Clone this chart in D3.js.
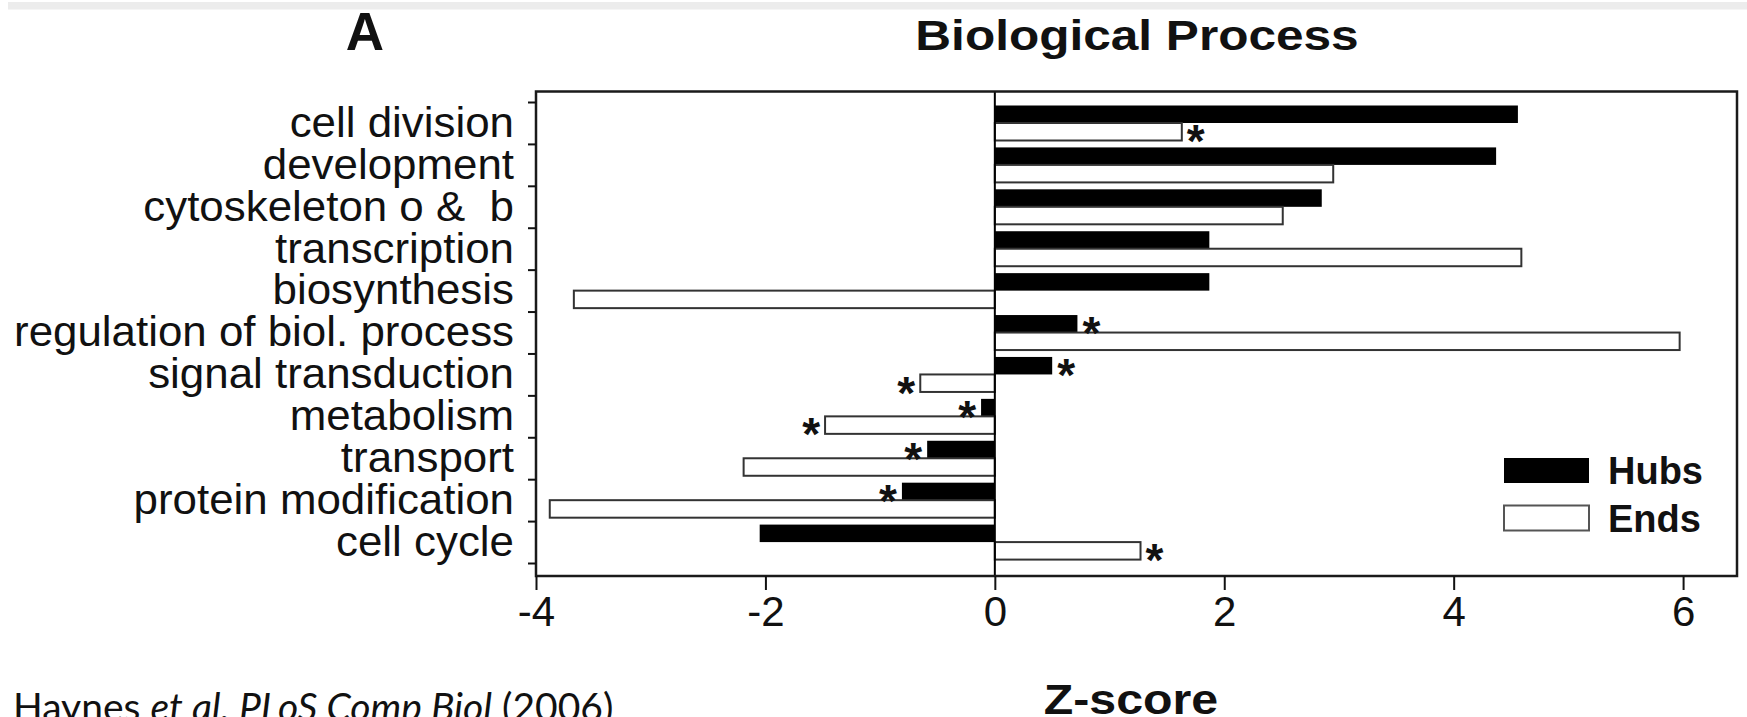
<!DOCTYPE html>
<html>
<head>
<meta charset="utf-8">
<script src="https://cdn.jsdelivr.net/npm/d3@7"></script>
<style>
  html, body { margin: 0; padding: 0; background: #fff; }
  svg { display: block; }
  text { font-family: "Liberation Sans", Arial, Helvetica, sans-serif; fill: #111; }
</style>
</head>
<body>
<svg id="chart"></svg>
<script>
const categories = [
  "cell division",
  "development",
  "cytoskeleton o &  b",
  "transcription",
  "biosynthesis",
  "regulation of biol. process",
  "signal transduction",
  "metabolism",
  "transport",
  "protein modification",
  "cell cycle"
];
const hubs = [4.56, 4.37, 2.85, 1.87, 1.87, 0.72, 0.5, -0.12, -0.59, -0.81, -2.05];
const ends = [1.63, 2.95, 2.51, 4.59, -3.67, 5.97, -0.65, -1.48, -2.19, -3.88, 1.27];
const hubsStar = [false, false, false, false, false, true, true, true, true, true, false];
const endsStar = [true, false, false, false, false, false, true, true, false, false, true];
const xTicks = [-4, -2, 0, 2, 4, 6];
const seriesNames = ["Hubs", "Ends"];

const width = 1747;
const height = 717;
const plot = { left: 536, right: 1737, top: 91.5, bottom: 576 };
const bandTop = 102;
const bandBottom = 563;
const barH = 17.5;
const barOff = 3.5;

const svg = d3.select("#chart").attr("width", width).attr("height", height);
svg.append("rect").attr("width", width).attr("height", height).attr("fill", "#fff");
// light strip along the top edge of the scan
svg.append("rect").attr("x", 8).attr("y", 2).attr("width", width - 8).attr("height", 7.5).attr("fill", "#ececec");

const x = d3.scaleLinear().domain([-4, 6.47]).range([plot.left, plot.right]);
const yBand = d3.scaleBand().domain(categories).range([bandTop, bandBottom]);
const yEdge = d3.scaleLinear().domain([0, categories.length]).range([bandTop, bandBottom]);

const rows = categories.map((c, i) => ({
  cat: c, hubs: hubs[i], ends: ends[i], hubsStar: hubsStar[i], endsStar: endsStar[i]
}));

function stretchTexts(sel, s) {
  sel.each(function () {
    const t = d3.select(this);
    const tx = +t.attr("x") || 0;
    t.attr("x", tx / s).attr("transform", `scale(${s},1)`);
  });
}

const bars = svg.append("g");

bars.selectAll("rect.hub")
  .data(rows)
  .join("rect")
  .attr("class", "hub")
  .attr("x", (d) => x(Math.min(0, d.hubs)))
  .attr("width", (d) => Math.abs(x(d.hubs) - x(0)))
  .attr("y", (d) => yBand(d.cat) + barOff)
  .attr("height", barH)
  .attr("fill", "#000");

bars.selectAll("rect.end")
  .data(rows)
  .join("rect")
  .attr("class", "end")
  .attr("x", (d) => x(Math.min(0, d.ends)))
  .attr("width", (d) => Math.abs(x(d.ends) - x(0)))
  .attr("y", (d) => yBand(d.cat) + barOff + barH)
  .attr("height", barH)
  .attr("fill", "#fff")
  .attr("stroke", "#333")
  .attr("stroke-width", 2);

// significance asterisks
const stars = [];
rows.forEach((d) => {
  if (d.hubsStar) stars.push({ v: d.hubs, yc: yBand(d.cat) + barOff + barH / 2 });
  if (d.endsStar) stars.push({ v: d.ends, yc: yBand(d.cat) + barOff + barH * 1.5 });
});
const starSize = 46;
bars.selectAll("text.star")
  .data(stars)
  .join("text")
  .attr("class", "star")
  .attr("x", (d) => (d.v >= 0 ? x(d.v) + 5 : x(d.v) - 5))
  .attr("y", (d) => d.yc + starSize * 0.55)
  .attr("text-anchor", (d) => (d.v >= 0 ? "start" : "end"))
  .attr("font-size", starSize)
  .attr("font-weight", "bold")
  .text("*");

// zero line
svg.append("line")
  .attr("x1", x(0)).attr("x2", x(0))
  .attr("y1", plot.top).attr("y2", plot.bottom)
  .attr("stroke", "#000").attr("stroke-width", 2);

// frame
svg.append("rect")
  .attr("x", plot.left).attr("y", plot.top)
  .attr("width", plot.right - plot.left).attr("height", plot.bottom - plot.top)
  .attr("fill", "none").attr("stroke", "#1a1a1a").attr("stroke-width", 2.5);

// left ticks at category boundaries
svg.append("g")
  .attr("transform", `translate(${plot.left},0)`)
  .call(d3.axisLeft(yEdge).tickValues(d3.range(categories.length + 1)).tickSize(8).tickFormat(""))
  .call((g) => g.select(".domain").remove())
  .call((g) => g.selectAll("line").attr("stroke", "#111").attr("stroke-width", 2));

// category labels
svg.append("g")
  .attr("transform", `translate(${plot.left},0)`)
  .call(d3.axisLeft(yBand).tickSize(0).tickPadding(22))
  .call((g) => g.select(".domain").remove())
  .call((g) => g.selectAll("text")
    .attr("font-size", 42)
    .attr("fill", "#111")
    .attr("dy", "0.33em")
    .style("white-space", "pre"))
  .call((g) => stretchTexts(g.selectAll("text"), 1.045));

// bottom axis
svg.append("g")
  .attr("transform", `translate(0,${plot.bottom})`)
  .call(d3.axisBottom(x).tickValues(xTicks).tickSize(14).tickFormat((d) => String(d)))
  .call((g) => g.select(".domain").remove())
  .call((g) => g.selectAll("line").attr("stroke", "#111").attr("stroke-width", 2))
  .call((g) => g.selectAll("text")
    .attr("font-size", 42)
    .attr("fill", "#111")
    .attr("y", 50)
    .attr("dy", 0));

// titles
svg.append("text")
  .attr("x", 365).attr("y", 50)
  .attr("text-anchor", "middle")
  .attr("font-size", 53).attr("font-weight", "bold")
  .text("A");

svg.append("g")
  .attr("transform", "translate(1137,50) scale(1.18,1)")
  .append("text")
  .attr("text-anchor", "middle")
  .attr("font-size", 42).attr("font-weight", "bold")
  .text("Biological Process");

svg.append("g")
  .attr("transform", "translate(1131,714) scale(1.15,1)")
  .append("text")
  .attr("text-anchor", "middle")
  .attr("font-size", 42).attr("font-weight", "bold")
  .text("Z-score");

// legend
const legend = svg.append("g").attr("transform", "translate(1504,458)");
seriesNames.forEach((name, i) => {
  legend.append("rect")
    .attr("x", 0).attr("y", i * 47.5)
    .attr("width", 85).attr("height", 25)
    .attr("fill", i === 0 ? "#000" : "#fff")
    .attr("stroke", i === 0 ? "#000" : "#555")
    .attr("stroke-width", i === 0 ? 0 : 2);
  legend.append("text")
    .attr("x", 104).attr("y", i * 47.5 + 26)
    .attr("font-size", 38).attr("font-weight", "bold")
    .text(name);
});

// citation
const cite = svg.append("text")
  .attr("x", 13).attr("y", 721)
  .attr("font-size", 39)
  .style("font-family", "Lato, 'Open Sans', sans-serif");
cite.append("tspan").text("Haynes ");
cite.append("tspan").attr("font-style", "italic").text("et al. PLoS Comp Biol");
cite.append("tspan").text(" (2006)");
</script>
</body>
</html>
